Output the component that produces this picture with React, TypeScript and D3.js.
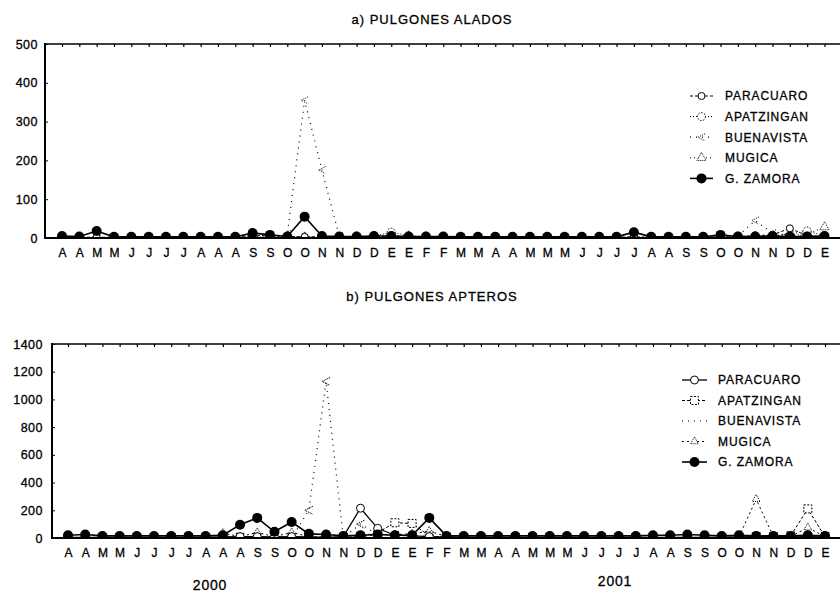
import React, { useEffect, useRef } from 'react';
import * as d3 from 'd3';

// month initials, apr 2000 -> dec 2001 (biweekly samples)
const months = ['A', 'A', 'M', 'M', 'J', 'J', 'J', 'J', 'A', 'A', 'A', 'S', 'S', 'O', 'O', 'N', 'N', 'D', 'D', 'E', 'E',
  'F', 'F', 'M', 'M', 'A', 'A', 'M', 'M', 'M', 'J', 'J', 'J', 'J', 'A', 'A', 'S', 'S', 'O', 'O', 'N', 'N', 'D', 'D', 'E'];

const seriesNames = ['PARACUARO', 'APATZINGAN', 'BUENAVISTA', 'MUGICA', 'G. ZAMORA'];

const aladosTicks = [0, 100, 200, 300, 400, 500];
const apterosTicks = [0, 200, 400, 600, 800, 1000, 1200, 1400];

// a) alados
const alParacuaro = [2, 2, 2, 2, 2, 2, 2, 2, 2, 2, 3, 6, 6, 4, 3, 3, 2, 3, 4, 5, 4, 3, 2, 2, 2, 2, 2, 2, 2, 2, 2, 2, 2, 3, 2, 2, 2, 2, 3, 4, 6, 8, 25, 6, 4];
const alApatzingan = [1, 1, 1, 1, 1, 1, 1, 1, 1, 1, 2, 3, 2, 3, 2, 2, 2, 3, 5, 15, 6, 3, 2, 1, 1, 1, 1, 1, 1, 1, 1, 1, 1, 2, 1, 1, 1, 1, 2, 3, 5, 6, 10, 18, 6];
const alBuenavista = [0, 0, 0, 0, 0, 0, 0, 0, 0, 0, 0, 0, 2, 10, 355, 175, 5, 3, 3, 4, 3, 2, 1, 0, 0, 0, 0, 0, 0, 0, 0, 0, 0, 0, 0, 0, 0, 0, 2, 5, 45, 12, 8, 6, 4];
const alMugica = [1, 1, 1, 1, 1, 1, 1, 1, 1, 1, 1, 2, 2, 3, 2, 2, 2, 3, 4, 6, 5, 3, 2, 1, 1, 1, 1, 1, 1, 1, 1, 1, 1, 1, 1, 1, 1, 1, 2, 3, 4, 5, 6, 10, 28];
const alZamora = [5, 4, 18, 3, 3, 3, 3, 3, 3, 3, 3, 13, 8, 4, 55, 5, 4, 4, 5, 5, 4, 4, 4, 3, 3, 3, 3, 3, 3, 3, 3, 3, 3, 15, 3, 3, 3, 3, 8, 4, 4, 5, 4, 4, 5];

// b) apteros
const apParacuaro = [5, 5, 5, 5, 5, 5, 5, 5, 5, 8, 10, 10, 8, 10, 8, 5, 10, 215, 70, 20, 15, 10, 8, 5, 5, 5, 5, 5, 5, 5, 5, 5, 5, 5, 5, 5, 5, 5, 5, 8, 10, 8, 8, 10, 8];
const apApatzingan = [3, 3, 3, 3, 3, 3, 3, 3, 3, 5, 5, 5, 5, 5, 5, 5, 5, 10, 40, 110, 105, 15, 5, 3, 3, 3, 3, 3, 3, 3, 3, 3, 3, 3, 3, 3, 3, 3, 3, 5, 10, 10, 15, 210, 10];
const apBuenavista = [0, 0, 0, 0, 0, 0, 0, 0, 0, 0, 0, 0, 0, 0, 200, 1130, 5, 100, 25, 20, 20, 10, 5, 0, 0, 0, 0, 0, 0, 0, 0, 0, 0, 0, 0, 0, 0, 0, 0, 5, 10, 5, 5, 10, 5];
const apMugica = [2, 2, 2, 2, 2, 2, 2, 2, 2, 35, 10, 40, 10, 40, 10, 5, 5, 10, 25, 25, 30, 50, 10, 2, 2, 2, 2, 2, 2, 2, 2, 2, 2, 2, 2, 2, 2, 2, 5, 10, 280, 10, 10, 75, 10];
const apZamora = [20, 25, 15, 15, 15, 15, 15, 15, 15, 20, 95, 145, 45, 115, 30, 25, 15, 20, 25, 20, 20, 145, 15, 15, 15, 15, 15, 15, 15, 15, 15, 15, 15, 15, 20, 20, 25, 20, 15, 20, 15, 15, 15, 20, 15];

const FONT = '"Liberation Sans", Arial, Helvetica, sans-serif';

// line + marker look for each station (same order as seriesNames)
const aladosStyles = [
  { dash: '3 2', width: 1, marker: 'circle', r: 3.5, mdash: null, legendMarker: true },
  { dash: '1 2', width: 1, marker: 'circle', r: 4, mdash: '1.5 1.5', legendMarker: true },
  { dash: '1 5', width: 1.2, marker: 'chevron', r: 3.5, mdash: '1 1.2', legendMarker: true },
  { dash: '1 3', width: 1, marker: 'tri', r: 3.5, mdash: '1 1', legendMarker: true },
  { dash: null, width: 1.6, marker: 'fcircle', r: 5, mdash: null, legendMarker: true },
];
const apterosStyles = [
  { dash: null, width: 1.3, marker: 'circle', r: 4, mdash: null, legendMarker: true },
  { dash: '3 2', width: 1, marker: 'square', r: 4, mdash: '2 1.5', legendMarker: true },
  { dash: '1 5', width: 1.2, marker: 'chevron', r: 4, mdash: '1.5 1', legendMarker: false },
  { dash: '2 3', width: 1, marker: 'tri', r: 3, mdash: '1 1', legendMarker: true },
  { dash: null, width: 1.6, marker: 'fcircle', r: 5, mdash: null, legendMarker: true },
];

// slight outline so the text reads as heavy as the scanned original
const inkText = (sel) => sel.attr('fill', '#000').attr('stroke', '#000').attr('stroke-width', 0.3);

const appendMarker = (sel, st) => {
  const r = st.r;
  if (st.marker === 'fcircle') {
    sel.append('circle').attr('r', r).attr('fill', '#000');
  } else if (st.marker === 'circle') {
    sel.append('circle').attr('r', r).attr('fill', '#fff').attr('stroke', '#000')
      .attr('stroke-width', 1).attr('stroke-dasharray', st.mdash);
  } else if (st.marker === 'square') {
    sel.append('rect').attr('x', -r).attr('y', -r).attr('width', 2 * r).attr('height', 2 * r)
      .attr('fill', '#fff').attr('stroke', '#000').attr('stroke-width', 1).attr('stroke-dasharray', st.mdash);
  } else if (st.marker === 'tri') {
    sel.append('path').attr('d', d3.symbol(d3.symbolTriangle, r * r * 3)())
      .attr('fill', '#fff').attr('stroke', '#000').attr('stroke-width', 1).attr('stroke-dasharray', st.mdash);
  } else if (st.marker === 'chevron') {
    sel.append('path').attr('d', `M${r},${-r}L${-r},0L${r},${r}`)
      .attr('fill', 'none').attr('stroke', '#000').attr('stroke-width', 1).attr('stroke-dasharray', st.mdash);
  }
};

const drawPanel = (svg, cfg) => {
  const { id, title, titleY, left, right, top, bottom, xStart, xEnd, yMax, ticks, tickPad, series, styles, legend } = cfg;

  const x = d3.scalePoint<number>().domain(d3.range(months.length)).range([xStart, xEnd]);
  const y = d3.scaleLinear().domain([0, yMax]).range([bottom, top]);

  const g = svg.append('g');

  g.append('clipPath').attr('id', id).append('rect')
    .attr('x', left).attr('y', top).attr('width', right - left).attr('height', bottom - top);

  const plot = g.append('g').attr('clip-path', `url(#${id})`);

  const line = d3.line<number>().x((d, i) => x(i)).y((d) => y(d));

  // draw zamora last so its filled dots sit on top
  [2, 3, 1, 0, 4].forEach((k) => {
    const st = styles[k];
    plot.append('path')
      .datum(series[k])
      .attr('fill', 'none')
      .attr('stroke', '#000')
      .attr('stroke-width', st.width)
      .attr('stroke-dasharray', st.dash)
      .attr('d', line);

    plot.selectAll(`.m${k}`)
      .data(series[k])
      .join('g')
      .attr('class', `m${k}`)
      .attr('transform', (d, i) => `translate(${x(i)},${y(d)})`)
      .each(function () { appendMarker(d3.select(this), st); });
  });

  // ticks along the top frame
  g.append('g')
    .attr('transform', `translate(0,${top})`)
    .call(d3.axisBottom(x).tickSize(3).tickFormat(() => ''))
    .call((a) => a.select('.domain').remove())
    .selectAll('line').attr('stroke-width', 1.2);

  // month labels
  g.append('g')
    .attr('transform', `translate(0,${bottom})`)
    .call(d3.axisBottom(x).tickSize(0).tickPadding(10).tickFormat((i) => months[i]))
    .call((a) => a.select('.domain').remove())
    .attr('font-family', FONT).attr('font-size', 12)
    .selectAll('text').call(inkText);

  // y axis
  g.append('g')
    .attr('transform', `translate(${left},0)`)
    .call(d3.axisLeft(y).tickValues(ticks).tickSize(-3).tickPadding(tickPad).tickFormat(d3.format('d')))
    .call((a) => a.select('.domain').remove())
    .attr('font-family', FONT).attr('font-size', 12.5)
    .selectAll('text').call(inkText).attr('letter-spacing', 0.5);

  // frame
  g.append('line').attr('x1', left).attr('x2', left).attr('y1', top - 1).attr('y2', bottom + 1)
    .attr('stroke', '#000').attr('stroke-width', 2);
  g.append('line').attr('x1', left).attr('x2', right).attr('y1', top).attr('y2', top)
    .attr('stroke', '#000').attr('stroke-width', 1.6);
  g.append('line').attr('x1', left).attr('x2', right).attr('y1', bottom).attr('y2', bottom)
    .attr('stroke', '#000').attr('stroke-width', 2);

  g.append('text')
    .attr('x', 432).attr('y', titleY)
    .attr('text-anchor', 'middle')
    .attr('font-family', FONT).attr('font-size', 13).attr('letter-spacing', 1)
    .call(inkText)
    .text(title);

  // legend
  seriesNames.forEach((name, k) => {
    const st = styles[k];
    const ly = legend.y0 + k * legend.step;
    const lg = g.append('g');
    lg.append('line')
      .attr('x1', legend.x0).attr('x2', legend.x1).attr('y1', ly).attr('y2', ly)
      .attr('stroke', '#000').attr('stroke-width', st.width).attr('stroke-dasharray', st.dash);
    if (st.legendMarker) {
      const mg = lg.append('g').attr('transform', `translate(${(legend.x0 + legend.x1) / 2},${ly})`);
      appendMarker(mg, st);
    }
    lg.append('text')
      .attr('x', legend.tx).attr('y', ly).attr('dy', '0.36em')
      .attr('font-family', FONT).attr('font-size', 12).attr('letter-spacing', 0.9)
      .call(inkText)
      .text(name);
  });
};

const App = () => {
  const svgRef = useRef(null);

  useEffect(() => {
    const svg = d3.select(svgRef.current);
    svg.selectAll('*').remove();

    drawPanel(svg, {
      id: 'clipA', title: 'a) PULGONES ALADOS', titleY: 24,
      left: 45, right: 842, top: 44, bottom: 238, xStart: 62, xEnd: 824.5,
      yMax: 500, ticks: aladosTicks, tickPad: 7,
      series: [alParacuaro, alApatzingan, alBuenavista, alMugica, alZamora],
      styles: aladosStyles,
      legend: { x0: 690, x1: 713, tx: 725, y0: 96, step: 20.6 },
    });

    drawPanel(svg, {
      id: 'clipB', title: 'b) PULGONES APTEROS', titleY: 301,
      left: 52, right: 842, top: 344, bottom: 538, xStart: 68, xEnd: 825,
      yMax: 1400, ticks: apterosTicks, tickPad: 9,
      series: [apParacuaro, apApatzingan, apBuenavista, apMugica, apZamora],
      styles: apterosStyles,
      legend: { x0: 682, x1: 707, tx: 718, y0: 380, step: 20.5 },
    });

    svg.append('text').attr('x', 210).attr('y', 590).attr('text-anchor', 'middle')
      .attr('font-family', FONT).attr('font-size', 14).attr('letter-spacing', 0.8)
      .call(inkText).text('2000');
    svg.append('text').attr('x', 615).attr('y', 586).attr('text-anchor', 'middle')
      .attr('font-family', FONT).attr('font-size', 14).attr('letter-spacing', 0.8)
      .call(inkText).text('2001');
  }, []);

  return (
    <svg
      ref={svgRef}
      width={840}
      height={592}
      style={{ position: 'absolute', left: 0, top: 0, background: '#fff' }}
    />
  );
};

export default App;
